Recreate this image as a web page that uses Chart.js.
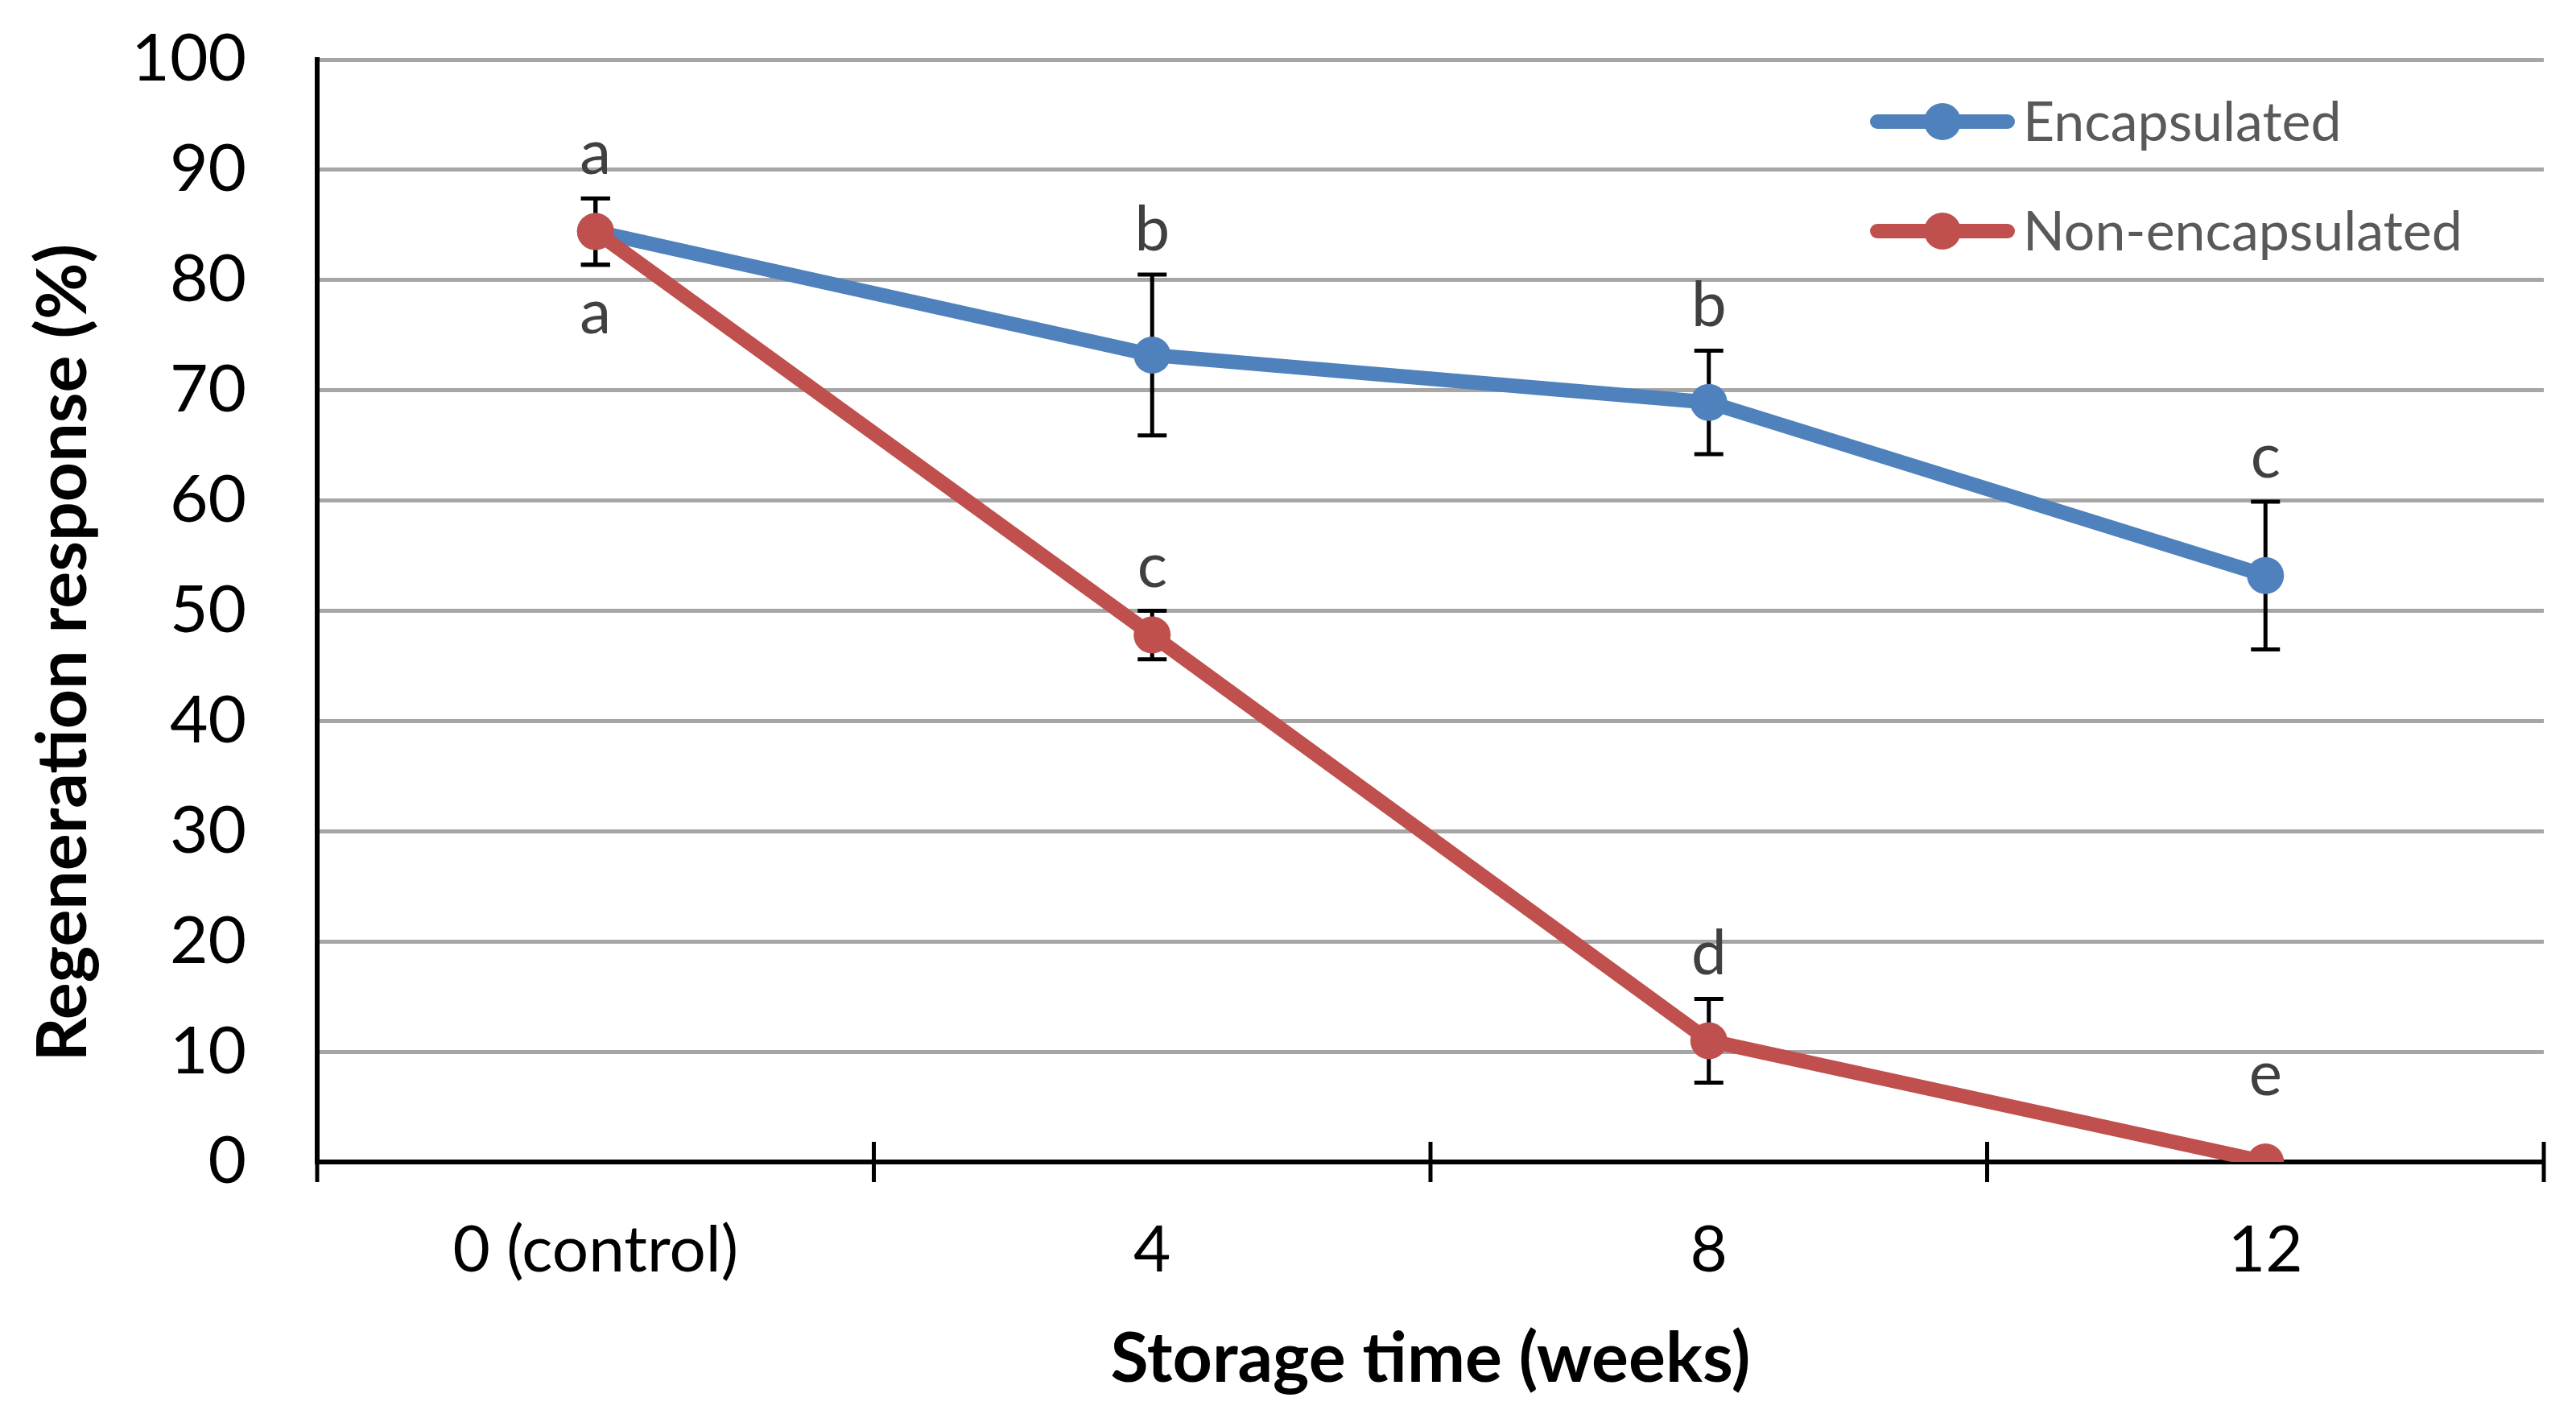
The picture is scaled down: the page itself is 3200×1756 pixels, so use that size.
<!DOCTYPE html>
<html>
<head>
<meta charset="utf-8">
<script src="https://cdn.jsdelivr.net/npm/chart.js@4.4.1/dist/chart.umd.min.js"></script>
<style>
  html, body { margin: 0; padding: 0; background: #fff; }
  #wrap { width: 3200px; height: 1756px; position: relative; }
</style>
</head>
<body>
<div id="wrap"><canvas id="chart"></canvas></div>
<script>
// values
const categories = ['0 (control)', '4', '8', '12'];
const encapsulated = [84.4, 73.2, 68.9, 53.2];
const encapsulatedErr = [3.0, 7.3, 4.7, 6.7];
const nonEncapsulated = [84.4, 47.8, 11.0, 0];
const nonEncapsulatedErr = [3.0, 2.2, 3.8, 0];
const encLetters = ['a', 'b', 'b', 'c'];
const nonLetters = ['a', 'c', 'd', 'e'];
const nonLetterBelow = [true, false, false, false];

const BLUE = '#4F81BD';
const RED = '#C0504D';
const FONT = 'Lato, "Open Sans", sans-serif';
const PT_R = 23;

// error bars under the lines
const errorBars = {
  id: 'errorBars',
  beforeDatasetsDraw(chart) {
    const { ctx, scales: { x, y } } = chart;
    ctx.save();
    ctx.strokeStyle = '#000';
    ctx.lineWidth = 5;
    chart.data.datasets.forEach(ds => {
      ds.data.forEach((v, i) => {
        const e = ds.errors[i];
        if (!e) return;
        const px = x.getPixelForValue(i);
        const top = y.getPixelForValue(v + e);
        const bot = y.getPixelForValue(v - e);
        ctx.beginPath();
        ctx.moveTo(px, top); ctx.lineTo(px, bot);
        ctx.moveTo(px - 18, top); ctx.lineTo(px + 18, top);
        ctx.moveTo(px - 18, bot); ctx.lineTo(px + 18, bot);
        ctx.stroke();
      });
    });
    ctx.restore();
  }
};

// significance letters
const letters = {
  id: 'letters',
  afterDatasetsDraw(chart) {
    const { ctx, scales: { x, y } } = chart;
    ctx.save();
    ctx.font = '78px ' + FONT;
    ctx.fillStyle = '#404040';
    ctx.textAlign = 'center';
    ctx.textBaseline = 'alphabetic';
    chart.data.datasets.forEach(ds => {
      ds.data.forEach((v, i) => {
        const e = ds.errors[i];
        const px = x.getPixelForValue(i);
        if (ds.below && ds.below[i]) {
          ctx.fillText(ds.letters[i], px, y.getPixelForValue(v - e) + 85);
        } else if (e) {
          ctx.fillText(ds.letters[i], px, y.getPixelForValue(v + e) - 30);
        } else {
          // no error bar: sit clear of the marker
          ctx.fillText(ds.letters[i], px, y.getPixelForValue(v) - PT_R - 60);
        }
      });
    });
    ctx.restore();
  }
};

// cross ticks on the category axis
const crossTicks = {
  id: 'crossTicks',
  afterDraw(chart) {
    const { ctx, scales: { x } } = chart;
    const yb = chart.chartArea.bottom;
    ctx.save();
    ctx.strokeStyle = '#000';
    ctx.lineWidth = 5;
    for (let i = 0; i <= categories.length; i++) {
      const px = x.getPixelForValue(i - 0.5);
      ctx.beginPath();
      ctx.moveTo(px, yb - 25);
      ctx.lineTo(px, yb + 25);
      ctx.stroke();
    }
    ctx.restore();
  }
};

// legend inside the plot, top right
const insideLegend = {
  id: 'insideLegend',
  afterDraw(chart) {
    const { ctx, chartArea } = chart;
    const x0 = chartArea.right - 837;
    ctx.save();
    ctx.font = '68px ' + FONT;
    ctx.textBaseline = 'middle';
    ctx.textAlign = 'left';
    chart.data.datasets.forEach((ds, k) => {
      const yy = chartArea.top + 77 + k * 136;
      ctx.strokeStyle = ds.borderColor;
      ctx.lineWidth = 18;
      ctx.lineCap = 'round';
      ctx.beginPath();
      ctx.moveTo(x0 + 9, yy);
      ctx.lineTo(x0 + 171, yy);
      ctx.stroke();
      ctx.fillStyle = ds.borderColor;
      ctx.beginPath();
      ctx.arc(x0 + 90, yy, PT_R, 0, Math.PI * 2);
      ctx.fill();
      ctx.fillStyle = '#595959';
      ctx.fillText(ds.label, x0 + 190, yy + 2);
    });
    ctx.restore();
  }
};

new Chart(document.getElementById('chart'), {
  type: 'line',
  data: {
    labels: categories,
    datasets: [
      { label: 'Encapsulated', data: encapsulated, errors: encapsulatedErr, letters: encLetters,
        borderColor: BLUE, backgroundColor: BLUE, borderWidth: 18, pointRadius: PT_R,
        pointBorderWidth: 0, pointBackgroundColor: BLUE, tension: 0, order: 1 },
      { label: 'Non-encapsulated', data: nonEncapsulated, errors: nonEncapsulatedErr, letters: nonLetters,
        below: nonLetterBelow,
        borderColor: RED, backgroundColor: RED, borderWidth: 18, pointRadius: PT_R,
        pointBorderWidth: 0, pointBackgroundColor: RED, tension: 0, order: 0 }
    ]
  },
  options: {
    responsive: true, maintainAspectRatio: false, animation: false, devicePixelRatio: 1,
    layout: { padding: { top: 74, right: 40, left: 0, bottom: 0 } },
    plugins: { legend: { display: false }, tooltip: { enabled: false } },
    scales: {
      x: {
        offset: true,
        grid: { display: false, drawTicks: false },
        border: { color: '#000', width: 6 },
        ticks: { color: '#000', font: { family: FONT, size: 80 }, padding: 62 },
        title: { display: true, text: 'Storage time (weeks)', color: '#000',
                 font: { family: FONT, size: 86, weight: 'bold' }, padding: { top: 0, bottom: 16 } },
        afterFit(s) { s.height = 313; }
      },
      y: {
        min: 0, max: 100,
        ticks: { stepSize: 10, color: '#000', font: { family: FONT, size: 82 }, padding: 0 },
        // invisible tick marks push the labels away from the axis
        grid: { color: '#A6A6A6', lineWidth: 5, drawTicks: true, tickLength: 88, tickColor: 'rgba(0,0,0,0)' },
        border: { color: '#000', width: 6 },
        // trailing spaces nudge the rotated title a little downward, as in the original
        title: { display: true, text: 'Regeneration response (%)     ', color: '#000',
                 font: { family: FONT, size: 86, weight: 'bold' }, padding: { top: 28, bottom: 0 } },
        afterFit(s) { s.width = 394; }
      }
    }
  },
  plugins: [errorBars, letters, crossTicks, insideLegend]
});
</script>
</body>
</html>
